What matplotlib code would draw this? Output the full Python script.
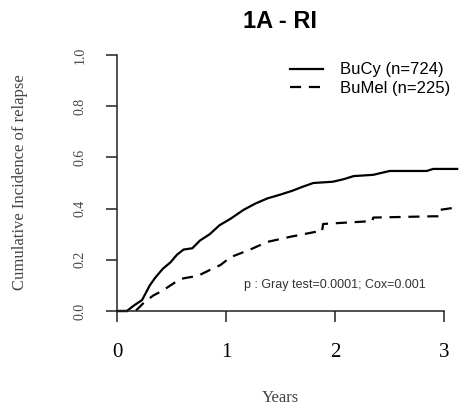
import matplotlib
matplotlib.use("Agg")
import matplotlib.pyplot as plt

# Data
bucy_years = [0.0, 0.09, 0.15, 0.23, 0.30, 0.35, 0.42, 0.49, 0.55, 0.61, 0.69, 0.76, 0.85, 0.94,
              1.04, 1.16, 1.27, 1.38, 1.50, 1.61, 1.70, 1.80, 1.98, 2.08, 2.17, 2.35, 2.50,
              2.70, 2.84, 2.90, 3.12]
bucy_cif = [0.0, 0.0, 0.02, 0.043, 0.10, 0.13, 0.165, 0.19, 0.22, 0.24, 0.245, 0.275, 0.30, 0.335,
            0.36, 0.395, 0.42, 0.44, 0.455, 0.47, 0.485, 0.50, 0.505, 0.515, 0.527, 0.532, 0.547,
            0.547, 0.547, 0.555, 0.555]

bumel_years = [0.0, 0.17, 0.24, 0.33, 0.42, 0.49, 0.58, 0.64, 0.74, 0.85, 0.95, 1.04, 1.22, 1.38,
               1.59, 1.83, 1.88, 1.89, 2.29, 2.34, 2.35, 2.90, 2.95, 2.96, 3.12]
bumel_cif = [0.0, 0.0, 0.03, 0.06, 0.08, 0.10, 0.125, 0.13, 0.137, 0.16, 0.18, 0.21, 0.24, 0.27,
             0.29, 0.31, 0.31, 0.34, 0.35, 0.35, 0.365, 0.37, 0.37, 0.395, 0.405]

x_ticks = [0, 1, 2, 3]
y_ticks = [0.0, 0.2, 0.4, 0.6, 0.8, 1.0]
y_tick_labels = ["0.0", "0.2", "0.4", "0.6", "0.8", "1.0"]
series_labels = ["BuCy (n=724)", "BuMel (n=225)"]
title = "1A - RI"
annotation = "p : Gray test=0.0001; Cox=0.001"

fig = plt.figure(figsize=(4.6, 4.07), dpi=100)
ax = fig.add_axes([0.226, 0.217, 0.775, 0.6667])

ax.plot(bucy_years, bucy_cif, color="black", lw=1.6, label=series_labels[0])
ax.plot(bumel_years, bumel_cif, color="black", lw=1.6,
        linestyle=(0, (5, 3.5)), label=series_labels[1])

ax.set_xlim(-0.12, 3.15)
ax.set_ylim(-0.03, 1.03)

for s in ["top", "right"]:
    ax.spines[s].set_visible(False)
ax.spines["left"].set_position(("data", 0))
ax.spines["bottom"].set_position(("data", 0))
ax.spines["left"].set_bounds(0, 1)
ax.spines["bottom"].set_bounds(0, 3)
for s in ["left", "bottom"]:
    ax.spines[s].set_linewidth(1.1)
    ax.spines[s].set_color("#222222")

ax.set_xticks(x_ticks)
ax.set_xticklabels([str(t) for t in x_ticks], fontfamily="Liberation Serif", fontsize=15)
ax.set_yticks(y_ticks)
ax.set_yticklabels(y_tick_labels, fontfamily="Liberation Serif", fontsize=10,
                   rotation=90, va="center", color="#444444")
ax.tick_params(axis="both", direction="out", length=8, width=1.1, color="#222222")
ax.tick_params(axis="x", pad=15)
ax.tick_params(axis="y", pad=14)

fig.text(0.609, 0.022, "Years", fontfamily="Liberation Serif", fontsize=12,
         ha="center", va="center", color="#444444")
fig.text(0.043, 0.553, "Cumulative Incidence of relapse", fontfamily="Liberation Serif",
         fontsize=12, rotation=90, ha="center", va="center", color="#444444")
fig.text(0.609, 0.948, title, fontfamily="Liberation Sans", fontweight="bold",
         fontsize=17, ha="center", va="center")

ax.text(0.648, 0.124, annotation, transform=ax.transAxes, fontfamily="Liberation Sans",
        fontsize=9, ha="center", va="center", color="#333333")

leg = ax.legend(loc="upper left", bbox_to_anchor=(0.48, 1.0), frameon=False,
                prop={"family": "Liberation Sans", "size": 12}, handlelength=2.0,
                handletextpad=1.0, labelspacing=0.2)

fig.savefig("out.png", dpi=100)
